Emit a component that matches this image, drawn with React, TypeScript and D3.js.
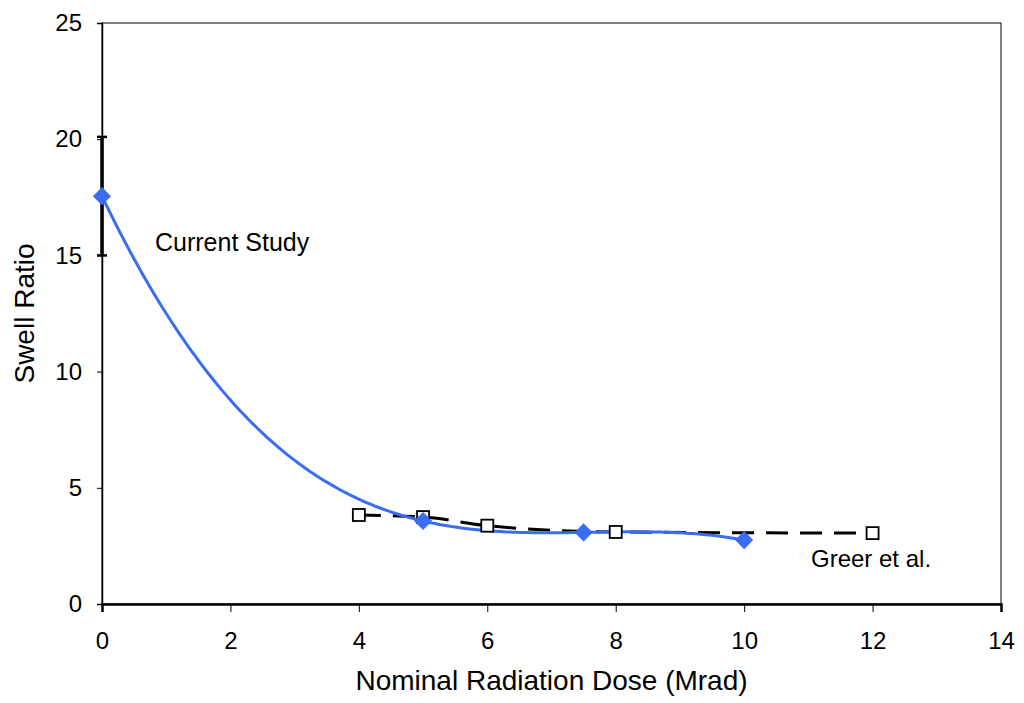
import { useRef, useEffect } from "react";
import * as d3 from "d3";

// Current Study (blue diamonds + cubic trendline)
const currentDose = [0, 5, 7.5, 10];
const currentSwell = [17.55, 3.57, 3.08, 2.75];
// error bar on the first point
const errLow = [15];
const errHigh = [20.1];

// Greer et al. (open squares, dashed line)
const greerDose = [4, 5, 6, 8, 12];
const greerSwell = [3.83, 3.74, 3.37, 3.1, 3.05];

const xTicks = [0, 2, 4, 6, 8, 10, 12, 14];
const yTicks = [0, 5, 10, 15, 20, 25];

// polynomial trendline through the points (same as the spreadsheet's 3rd order fit)
const trend = (xs, ys) => (t) =>
  xs.reduce((sum, xi, i) => {
    let term = ys[i];
    xs.forEach((xj, j) => {
      if (j !== i) term *= (t - xj) / (xi - xj);
    });
    return sum + term;
  }, 0);

const App = () => {
  const svgRef = useRef(null);

  useEffect(() => {
    const width = 1024;
    const height = 703;
    const svg = d3.select(svgRef.current);
    svg.selectAll("*").remove();
    svg.attr("width", width).attr("height", height);

    const margin = { top: 23, right: 23, bottom: 99, left: 102 };
    const x = d3.scaleLinear().domain([0, 14]).range([margin.left, width - margin.right]);
    const y = d3.scaleLinear().domain([0, 25]).range([height - margin.bottom, margin.top]);

    const font = "Arial, 'Liberation Sans', sans-serif";
    const blue = "#3a6cf4";

    // frame
    svg
      .append("rect")
      .attr("x", x(0))
      .attr("y", y(25))
      .attr("width", x(14) - x(0))
      .attr("height", y(0) - y(25))
      .attr("fill", "none")
      .attr("stroke", "#000")
      .attr("stroke-width", 1);

    // y axis
    const yAxis = svg
      .append("g")
      .attr("transform", `translate(${x(0)},0)`)
      .call(d3.axisLeft(y).tickValues(yTicks).tickSize(5).tickPadding(15));
    yAxis.select(".domain").attr("stroke-width", 1.5);
    yAxis.selectAll("text").attr("font-size", 24).attr("font-family", font).attr("fill", "#000");

    // x axis
    const xAxis = svg
      .append("g")
      .attr("transform", `translate(0,${y(0)})`)
      .call(d3.axisBottom(x).tickValues(xTicks).tickSize(8).tickPadding(20));
    xAxis.select(".domain").attr("stroke-width", 2.5);
    xAxis.selectAll("text").attr("font-size", 24).attr("font-family", font).attr("fill", "#000");

    // axis titles
    svg
      .append("text")
      .attr("transform", `translate(34,${(y(0) + y(25)) / 2}) rotate(-90)`)
      .attr("text-anchor", "middle")
      .attr("font-size", 28)
      .attr("font-family", font)
      .text("Swell Ratio");
    svg
      .append("text")
      .attr("x", (x(0) + x(14)) / 2)
      .attr("y", 690)
      .attr("text-anchor", "middle")
      .attr("font-size", 28)
      .attr("font-family", font)
      .text("Nominal Radiation Dose (Mrad)");

    // error bar
    errLow.forEach((lo, i) => {
      const cx = x(currentDose[i]);
      svg
        .append("line")
        .attr("x1", cx)
        .attr("x2", cx)
        .attr("y1", y(lo))
        .attr("y2", y(errHigh[i]))
        .attr("stroke", "#000")
        .attr("stroke-width", 3.5);
      [lo, errHigh[i]].forEach((v) =>
        svg
          .append("line")
          .attr("x1", cx - 5)
          .attr("x2", cx + 5)
          .attr("y1", y(v))
          .attr("y2", y(v))
          .attr("stroke", "#000")
          .attr("stroke-width", 2.5)
      );
    });

    const line = d3
      .line()
      .x((d) => x(d[0]))
      .y((d) => y(d[1]))
      .curve(d3.curveMonotoneX);

    // Greer dashed line
    const greer = greerDose.map((d, i) => [d, greerSwell[i]]);
    svg
      .append("path")
      .attr("d", line(greer))
      .attr("fill", "none")
      .attr("stroke", "#000")
      .attr("stroke-width", 3)
      .attr("stroke-dasharray", "22,12");

    // Current study trendline
    const current = currentDose.map((d, i) => [d, currentSwell[i]]);
    const fit = trend(currentDose, currentSwell);
    const fitPts = x
      .copy()
      .domain(d3.extent(currentDose))
      .ticks(200)
      .map((t) => [t, fit(t)]);
    svg
      .append("path")
      .attr("d", d3.line().x((d) => x(d[0])).y((d) => y(d[1]))(fitPts))
      .attr("fill", "none")
      .attr("stroke", blue)
      .attr("stroke-width", 3);

    // Greer markers
    svg
      .selectAll(".sq")
      .data(greer)
      .enter()
      .append("rect")
      .attr("x", (d) => x(d[0]) - 6)
      .attr("y", (d) => y(d[1]) - 6)
      .attr("width", 12)
      .attr("height", 12)
      .attr("fill", "#fff")
      .attr("stroke", "#000")
      .attr("stroke-width", 1.8);

    // Current markers
    svg
      .selectAll(".dm")
      .data(current)
      .enter()
      .append("path")
      .attr("d", d3.symbol(d3.symbolDiamond2, 210)())
      .attr("transform", (d) => `translate(${x(d[0])},${y(d[1])})`)
      .attr("fill", blue);

    // labels
    svg
      .append("text")
      .attr("x", 155)
      .attr("y", 251)
      .attr("font-size", 25)
      .attr("font-family", font)
      .text("Current Study");
    svg
      .append("text")
      .attr("x", 811)
      .attr("y", 567)
      .attr("font-size", 24)
      .attr("font-family", font)
      .text("Greer et al.");
  }, []);

  return <svg ref={svgRef} style={{ position: "absolute", left: 0, top: 0 }}></svg>;
};

export default App;
